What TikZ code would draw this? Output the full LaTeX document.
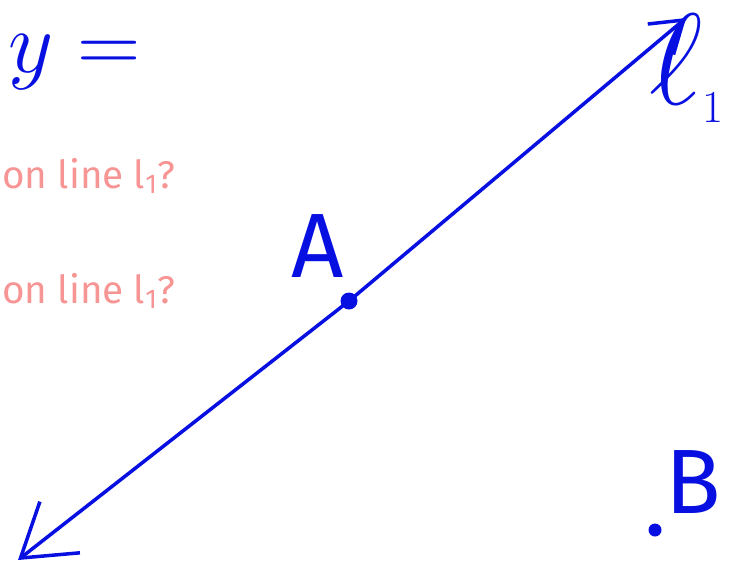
\RequirePackage{fix-cm}
\documentclass[tikz,border=0pt]{standalone}
\usepackage{fontspec}
\setsansfont{Fira Sans}
\usetikzlibrary{arrows.meta}
\definecolor{handblue}{RGB}{8,16,225}
\definecolor{pinkq}{RGB}{247,148,148}

\begin{document}
\begin{tikzpicture}[
    x=0.02cm, y=-0.02cm,
    hand/.style={draw=handblue, line width=2pt, line cap=round, line join=round},
    dot/.style={circle, fill=handblue, inner sep=0pt, minimum size=#1},
    ask/.style={text=pinkq, font=\sffamily\fontsize{22}{22}\selectfont, anchor=base east, inner sep=0pt},
    lbl/.style={text=handblue, inner sep=0pt}
]
% Marco de la imagen (732 x 562 px)
\useasboundingbox (0,0) rectangle (732,562);
\clip (0,0) rectangle (732,562);

% Preguntas
\node[ask] (q1) at (176,188) {on line l\textsubscript{1}?};
\node[ask] (q2) at (176,303) {on line l\textsubscript{1}?};

% Ecuacion arriba
\node[lbl, anchor=base west, font=\fontsize{50}{50}\selectfont] (eq) at (8,72) {$y =$};

% Recta l1 con el punto A
\coordinate (tipL) at (18,560);
\coordinate (tipR) at (686,18);
\node[dot=3.4mm] (A) at (349,301) {};
\draw[hand, {Straight Barb[length=10mm,width=13mm]}-{Straight Barb[length=6mm,width=8mm]}]
    (tipL) -- (A.center) -- (tipR);

% Punto B fuera de la recta
\node[dot=2.6mm] (B) at (655,530) {};

% Etiquetas
\node[lbl, font=\sffamily\fontsize{52}{52}\selectfont] (labA) at (318,246) {A};
\node[lbl, font=\sffamily\fontsize{52}{52}\selectfont] (labB) at (693,482) {B};
\node[lbl, anchor=north east] (labl) at (724,14)
    {\fontsize{74}{74}\selectfont$\ell$\raisebox{-10pt}{\fontsize{26}{26}\selectfont 1}};
\end{tikzpicture}
\end{document}
